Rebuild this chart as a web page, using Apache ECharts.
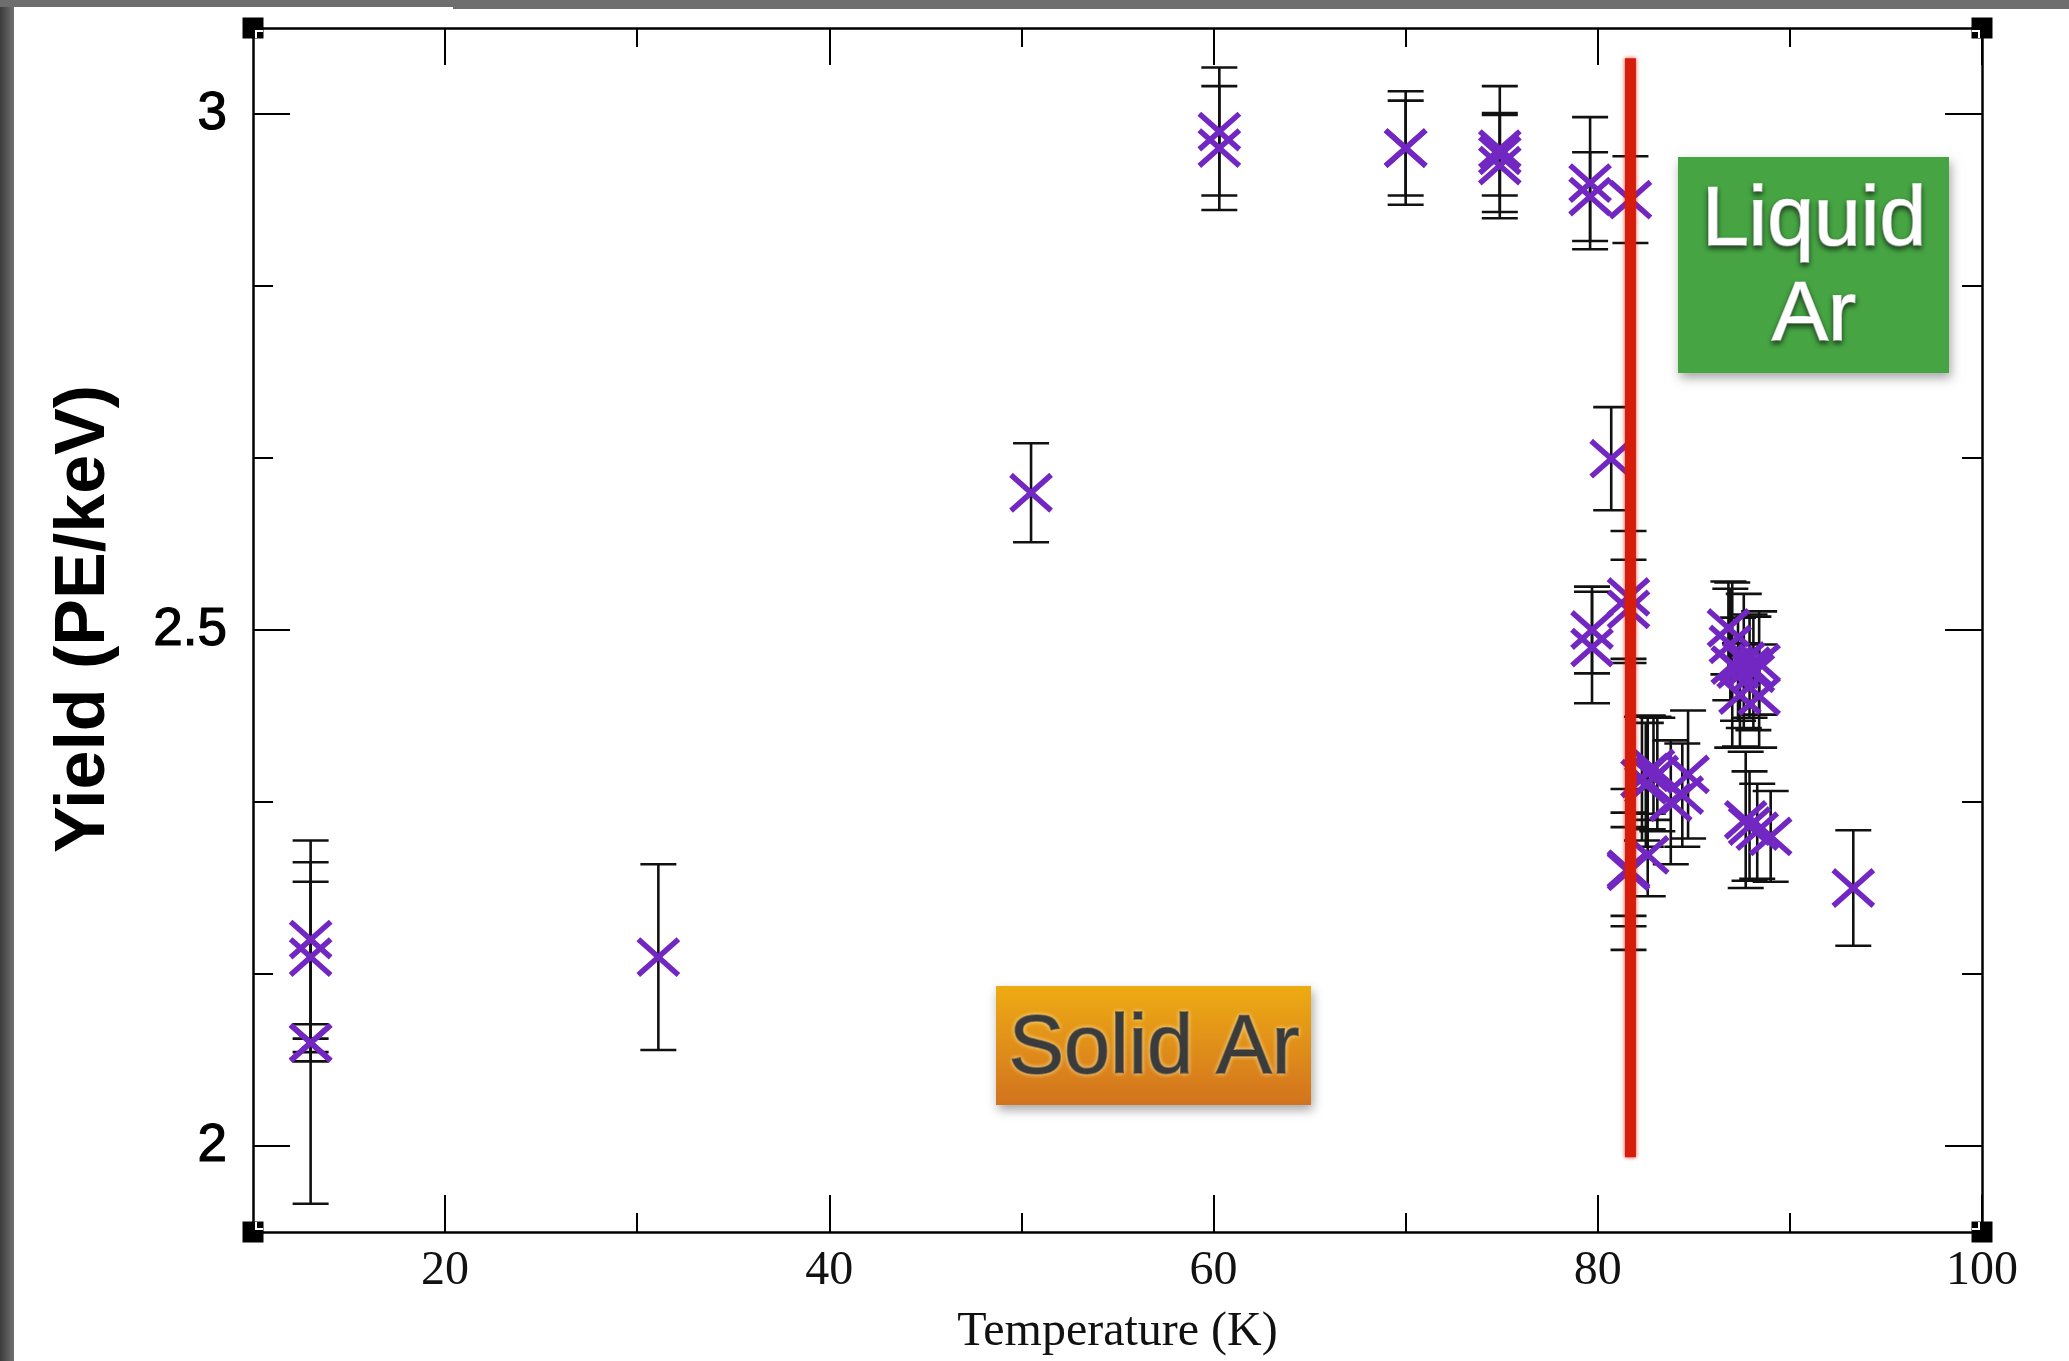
<!DOCTYPE html>
<html>
<head>
<meta charset="utf-8">
<title>Yield vs Temperature</title>
<script src="https://cdn.jsdelivr.net/npm/echarts@6/dist/echarts.min.js"></script>
<style>
  html, body { margin: 0; padding: 0; background: #ffffff; overflow: hidden; }
  #chart { width: 2069px; height: 1361px; }
</style>
</head>
<body>
<div id="chart"></div>
<script>
// Scintillation yield measurements (PE/keV) against argon temperature (K)
const temperature = [
  13.0, 13.0, 13.0, 13.0,
  31.1, 50.5,
  60.3, 60.3, 70.0, 70.0, 74.9, 74.9, 74.9,
  79.6, 79.6, 81.7, 80.7,
  79.7, 79.7, 81.6, 81.6,
  81.6, 81.6, 81.6, 82.6,
  82.3, 82.6, 82.9, 83.1, 83.8, 84.4, 84.7, 82.5,
  86.8, 86.9, 87.3, 87.6, 87.9, 88.1, 88.4, 87.4, 88.4, 87.0,
  87.7, 87.9, 88.3, 89.0,
  93.3
];
const yieldValue = [
  2.200, 2.183, 2.100, 2.100,
  2.183, 2.633,
  2.983, 2.967, 2.967, 2.967, 2.966, 2.950, 2.960,
  2.933, 2.920, 2.917, 2.666,
  2.500, 2.483, 2.532, 2.520,
  2.268, 2.268, 2.266, 2.282,
  2.356, 2.362, 2.366, 2.360, 2.333, 2.340, 2.360, 2.350,
  2.502, 2.486, 2.462, 2.470, 2.465, 2.458, 2.468, 2.437, 2.436, 2.466,
  2.316, 2.310, 2.305, 2.300,
  2.250
];
const yieldError = [
  0.096, 0.092, 0.156, 0.018,
  0.090, 0.048,
  0.062, 0.060, 0.055, 0.046, 0.061, 0.051, 0.039,
  0.064, 0.043, 0.042, 0.050,
  0.042, 0.054, 0.064, 0.048,
  0.078, 0.055, 0.043, 0.040,
  0.060, 0.055, 0.050, 0.055, 0.060, 0.050, 0.062, 0.060,
  0.045, 0.054, 0.050, 0.065, 0.050, 0.055, 0.050, 0.050, 0.050, 0.080,
  0.066, 0.053, 0.046, 0.044,
  0.056
];

// Axis ticks and labels
const xMajorTicks = [20, 40, 60, 80, 100];
const xMinorTicks = [30, 50, 70, 90];
const yMajorTicks = [2, 2.5, 3];
const yMinorTicks = [2 + 1 / 6, 2 + 2 / 6, 2.5 + 1 / 6, 2.5 + 2 / 6];
const X_MIN = 10, X_MAX = 100;
const Y_MIN = 2 - 1 / 12, Y_MAX = 3 + 1 / 12;

// Solid / liquid boundary (melting point of argon)
const meltingPoint = 81.7;
const meltingLineYield = [1.989, 3.054];

const chart = echarts.init(document.getElementById('chart'), null, { renderer: 'canvas' });

const INK = '#000000';
const PURPLE = '#7226c2';

function xAxisDef(position, ticks, tickLen, withLine, withLabels) {
  return {
    type: 'value', gridIndex: 0, position: position,
    min: X_MIN, max: X_MAX,
    axisLine: { show: withLine, onZero: false, lineStyle: { color: INK, width: 2.5 } },
    axisTick: { show: true, inside: true, length: tickLen, customValues: ticks,
                lineStyle: { color: INK, width: 2 } },
    axisLabel: withLabels ? {
      show: true, customValues: xMajorTicks, margin: 15,
      fontFamily: '"Liberation Serif", "DejaVu Serif", serif', fontSize: 48, color: '#111',
      formatter: v => String(v)
    } : { show: false },
    splitLine: { show: false },
    name: withLabels ? 'Temperature (K)' : '',
    nameLocation: 'middle', nameGap: 76,
    nameTextStyle: { fontFamily: '"Liberation Serif", "DejaVu Serif", serif', fontSize: 48, color: '#111' }
  };
}

function yAxisDef(position, ticks, tickLen, withLine, withLabels) {
  return {
    type: 'value', gridIndex: 0, position: position,
    min: Y_MIN, max: Y_MAX,
    axisLine: { show: withLine, onZero: false, lineStyle: { color: INK, width: 2.5 } },
    axisTick: { show: true, inside: true, length: tickLen, customValues: ticks,
                lineStyle: { color: INK, width: 2 } },
    axisLabel: withLabels ? {
      show: true, customValues: yMajorTicks, margin: 26,
      fontFamily: '"Liberation Sans", Arial, sans-serif', fontSize: 53, color: '#000',
      textBorderColor: '#000', textBorderWidth: 1.2,
      formatter: v => String(v)
    } : { show: false },
    splitLine: { show: false },
    name: withLabels ? 'Yield (PE/keV)' : '',
    nameLocation: 'middle', nameGap: 133, nameRotate: 90,
    nameTextStyle: { fontFamily: '"Liberation Sans", Arial, sans-serif', fontWeight: 'bold',
                     fontSize: 70, color: '#000', padding: [0, 0, 0, 22] }
  };
}

const points = temperature.map((t, i) => [t, yieldValue[i], yieldError[i]]);
const frameCorners = [[X_MIN, Y_MIN], [X_MAX, Y_MIN], [X_MIN, Y_MAX], [X_MAX, Y_MAX]];

function renderErrorBar(params, api) {
  const x = api.value(0), y = api.value(1), e = api.value(2);
  const hi = api.coord([x, y + e]);
  const lo = api.coord([x, y - e]);
  const hw = 18;
  const st = { stroke: '#111', lineWidth: 2.6 };
  return {
    type: 'group',
    children: [
      { type: 'line', shape: { x1: hi[0], y1: hi[1], x2: lo[0], y2: lo[1] }, style: st },
      { type: 'line', shape: { x1: hi[0] - hw, y1: hi[1], x2: hi[0] + hw, y2: hi[1] }, style: st },
      { type: 'line', shape: { x1: lo[0] - hw, y1: lo[1], x2: lo[0] + hw, y2: lo[1] }, style: st }
    ]
  };
}

function renderCross(params, api) {
  const c = api.coord([api.value(0), api.value(1)]);
  const hx = 18, hy = 16;
  const st = { stroke: PURPLE, lineWidth: 5.5, lineCap: 'square' };
  return {
    type: 'group',
    children: [
      { type: 'line', shape: { x1: c[0] - hx, y1: c[1] - hy, x2: c[0] + hx, y2: c[1] + hy }, style: st },
      { type: 'line', shape: { x1: c[0] - hx, y1: c[1] + hy, x2: c[0] + hx, y2: c[1] - hy }, style: st }
    ]
  };
}

function renderCorner(params, api) {
  const c = api.coord([api.value(0), api.value(1)]);
  const sx = api.value(0) === X_MIN ? 1 : -1;   // direction toward plot interior
  const sy = api.value(1) === Y_MIN ? -1 : 1;
  const s = 21;
  const ix = sx > 0 ? c[0] + 2 : c[0] - 10;
  const iy = sy > 0 ? c[1] + 2 : c[1] - 10;
  return {
    type: 'group',
    children: [
      { type: 'rect', shape: { x: c[0] - s / 2, y: c[1] - s / 2, width: s, height: s }, style: { fill: '#000' } },
      { type: 'rect', shape: { x: ix, y: iy, width: 8, height: 8 }, style: { fill: '#fff' } },
      { type: 'rect', shape: { x: ix + (sx > 0 ? 2 : 0), y: iy + (sy > 0 ? 2 : 0), width: 6, height: 6 }, style: { fill: '#000' } }
    ]
  };
}

const option = {
  backgroundColor: '#ffffff',
  animation: false,
  grid: { left: 253, right: 87, top: 28, bottom: 121, containLabel: false },
  xAxis: [
    xAxisDef('bottom', xMajorTicks, 37, true, true),
    xAxisDef('bottom', xMinorTicks, 19, false, false),
    xAxisDef('top', xMajorTicks, 37, true, false),
    xAxisDef('top', xMinorTicks, 19, false, false)
  ],
  yAxis: [
    yAxisDef('left', yMajorTicks, 37, true, true),
    yAxisDef('left', yMinorTicks, 20, false, false),
    yAxisDef('right', yMajorTicks, 37, true, false),
    yAxisDef('right', yMinorTicks, 20, false, false)
  ],
  graphic: [
    // dark frame strips around the slide
    { type: 'rect', z: -10, shape: { x: 0, y: 0, width: 14, height: 1361 },
      style: { fill: new echarts.graphic.LinearGradient(0, 0, 1, 0, [
        { offset: 0, color: '#3c3c3c' }, { offset: 1, color: '#707070' }]) } },
    { type: 'rect', z: -10, shape: { x: 0, y: 0, width: 453, height: 7 }, style: { fill: '#6e6e6e' } },
    { type: 'rect', z: -10, shape: { x: 453, y: 0, width: 1616, height: 9 }, style: { fill: '#6e6e6e' } },
    // "Liquid Ar" label box
    {
      type: 'group', left: 1678, top: 157, z: 100,
      children: [
        { type: 'rect', shape: { x: 0, y: 0, width: 271, height: 216 },
          style: { fill: '#46a443', shadowBlur: 10, shadowOffsetX: 2, shadowOffsetY: 5,
                   shadowColor: 'rgba(0,0,0,0.35)' } },
        { type: 'text', x: 136, y: 112,
          style: { text: 'Liquid\nAr', fill: '#ffffff', font: '84px "Liberation Sans", Arial, sans-serif',
                   align: 'center', verticalAlign: 'middle', lineHeight: 95,
                   stroke: '#ffffff', lineWidth: 1.6,
                   textShadowColor: 'rgba(0,0,0,0.55)', textShadowBlur: 5, textShadowOffsetY: 3 } }
      ]
    },
    // "Solid Ar" label box
    {
      type: 'group', left: 996, top: 986, z: 100,
      children: [
        { type: 'rect', shape: { x: 0, y: 0, width: 315, height: 119 },
          style: { fill: new echarts.graphic.LinearGradient(0, 0, 0, 1, [
                     { offset: 0, color: '#eeab13' }, { offset: 1, color: '#d2731f' }]),
                   shadowBlur: 10, shadowOffsetX: 2, shadowOffsetY: 5,
                   shadowColor: 'rgba(0,0,0,0.35)' } },
        { type: 'text', x: 158, y: 64,
          style: { text: 'Solid Ar', fill: '#3b3b3b', font: '83px "Liberation Sans", Arial, sans-serif',
                   align: 'center', verticalAlign: 'middle',
                   stroke: '#3b3b3b', lineWidth: 1.6,
                   textShadowColor: 'rgba(255,225,150,0.85)', textShadowBlur: 4 } }
      ]
    }
  ],
  series: [
    {
      name: 'error', type: 'custom', xAxisIndex: 0, yAxisIndex: 0, z: 3,
      renderItem: renderErrorBar, data: points, encode: { x: 0, y: 1 }, silent: true
    },
    {
      name: 'yield', type: 'custom', xAxisIndex: 0, yAxisIndex: 0, z: 4,
      renderItem: renderCross, data: points, encode: { x: 0, y: 1 }, silent: true
    },
    {
      name: 'melting', type: 'line', xAxisIndex: 0, yAxisIndex: 0, z: 5,
      data: meltingLineYield.map(v => [meltingPoint, v]),
      symbol: 'none', silent: true,
      lineStyle: { color: '#d61d0b', width: 11, cap: 'butt',
                   shadowColor: 'rgba(214,29,11,0.8)', shadowBlur: 4 }
    },
    {
      name: 'frame', type: 'custom', xAxisIndex: 0, yAxisIndex: 0, z: 6, clip: false,
      renderItem: renderCorner, data: frameCorners, encode: { x: 0, y: 1 }, silent: true
    }
  ]
};

chart.setOption(option);
</script>
</body>
</html>
